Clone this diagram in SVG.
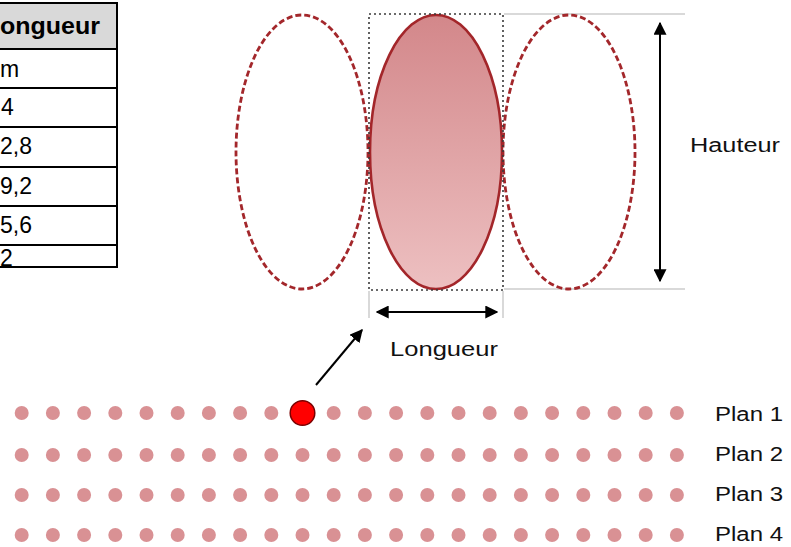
<svg xmlns="http://www.w3.org/2000/svg" width="791" height="547" viewBox="0 0 791 547">
<defs>
<style>
.tbl{font-family:"Liberation Sans",Arial,sans-serif;font-size:23px;fill:#000}
.lbl{font-family:"Liberation Sans",Arial,sans-serif;font-size:20px;fill:#111}
.dash{fill:none;stroke:#a3272b;stroke-width:2.8;stroke-dasharray:6 3}
.dot{fill:#d99194}
.guide{stroke:#d9d9d9;stroke-width:2;fill:none}
.arr{stroke:#000;stroke-width:2;fill:none}
</style>
<linearGradient id="g" x1="0" y1="0" x2="0" y2="1">
<stop offset="0" stop-color="#d3878a"/>
<stop offset="1" stop-color="#edc0c1"/>
</linearGradient>
<marker id="ah" viewBox="0 0 10 10" refX="9" refY="5" markerWidth="13" markerHeight="13" markerUnits="userSpaceOnUse" orient="auto-start-reverse">
<path d="M0,0 L10,5 L0,10 z" fill="#000"/>
</marker>
</defs>

<g id="table">
<rect x="-10" y="3" width="127" height="46" fill="#d9d9d9"/>
<rect x="-10" y="49" width="127" height="218" fill="#fff"/>
<text class="tbl" x="0" y="34" font-weight="bold" textLength="100" lengthAdjust="spacingAndGlyphs">ongueur</text>
<text class="tbl" x="0" y="77">m</text>
<text class="tbl" x="1" y="115">4</text>
<text class="tbl" x="0" y="154">2,8</text>
<text class="tbl" x="0" y="194">9,2</text>
<text class="tbl" x="0" y="233">5,6</text>
<text class="tbl" x="0" y="266">2</text>
<g stroke="#000" stroke-width="2" fill="none">
<rect x="-10" y="3" width="127" height="264"/>
<line x1="-10" y1="49" x2="117" y2="49"/>
<line x1="-10" y1="88" x2="117" y2="88"/>
<line x1="-10" y1="127" x2="117" y2="127"/>
<line x1="-10" y1="167" x2="117" y2="167"/>
<line x1="-10" y1="206" x2="117" y2="206"/>
<line x1="-10" y1="245" x2="117" y2="245"/>
</g>
</g>

<g id="guides">
<line class="guide" x1="504" y1="14" x2="685" y2="14"/>
<line class="guide" x1="504" y1="289" x2="685" y2="289"/>
<line class="guide" x1="369" y1="291" x2="369" y2="318" stroke-width="1.5"/>
<line class="guide" x1="503" y1="291" x2="503" y2="318" stroke-width="1.5"/>
</g>

<g id="ellipse-left"><ellipse class="dash" cx="302" cy="152" rx="66" ry="137"/></g>
<g id="ellipse-right"><ellipse class="dash" cx="569" cy="152" rx="66" ry="137"/></g>
<g id="ellipse-center"><ellipse cx="436" cy="152" rx="66" ry="137" fill="url(#g)" stroke="#a3262a" stroke-width="2.6"/></g>
<g id="bbox"><rect x="369" y="14" width="134" height="276" fill="none" stroke="#3a3a3a" stroke-width="1.6" stroke-dasharray="2 3"/></g>

<g id="connectors">
<line class="arr" x1="660" y1="23" x2="660" y2="281" marker-start="url(#ah)" marker-end="url(#ah)"/>
<line class="arr" x1="377" y1="312" x2="497" y2="312" marker-start="url(#ah)" marker-end="url(#ah)"/>
<line class="arr" x1="316" y1="385" x2="362" y2="330" marker-end="url(#ah)"/>
</g>

<g id="labels">
<text class="lbl" x="690" y="152" textLength="90" lengthAdjust="spacingAndGlyphs">Hauteur</text>
<text class="lbl" x="390" y="356" textLength="108" lengthAdjust="spacingAndGlyphs">Longueur</text>
<text class="lbl" x="715" y="421" font-size="19" textLength="68" lengthAdjust="spacingAndGlyphs">Plan 1</text>
<text class="lbl" x="715" y="461" font-size="19" textLength="68" lengthAdjust="spacingAndGlyphs">Plan 2</text>
<text class="lbl" x="715" y="501" font-size="19" textLength="68" lengthAdjust="spacingAndGlyphs">Plan 3</text>
<text class="lbl" x="715" y="541" font-size="19" textLength="68" lengthAdjust="spacingAndGlyphs">Plan 4</text>
</g>

<g id="dots">
<g id="plan1">
<circle class="dot" cx="21.7" cy="413" r="7"/><circle class="dot" cx="52.9" cy="413" r="7"/><circle class="dot" cx="84.1" cy="413" r="7"/><circle class="dot" cx="115.3" cy="413" r="7"/><circle class="dot" cx="146.5" cy="413" r="7"/><circle class="dot" cx="177.7" cy="413" r="7"/><circle class="dot" cx="208.9" cy="413" r="7"/><circle class="dot" cx="240.1" cy="413" r="7"/><circle class="dot" cx="271.3" cy="413" r="7"/><circle class="dot" cx="333.7" cy="413" r="7"/><circle class="dot" cx="364.9" cy="413" r="7"/><circle class="dot" cx="396.1" cy="413" r="7"/><circle class="dot" cx="427.3" cy="413" r="7"/><circle class="dot" cx="458.5" cy="413" r="7"/><circle class="dot" cx="489.7" cy="413" r="7"/><circle class="dot" cx="520.9" cy="413" r="7"/><circle class="dot" cx="552.1" cy="413" r="7"/><circle class="dot" cx="583.3" cy="413" r="7"/><circle class="dot" cx="614.5" cy="413" r="7"/><circle class="dot" cx="645.7" cy="413" r="7"/><circle class="dot" cx="676.9" cy="413" r="7"/>
</g>
<g id="selected"><circle cx="302.5" cy="413" r="12.3" fill="#ff0000" stroke="#7a0000" stroke-width="1.5"/></g>
<g id="plan2">
<circle class="dot" cx="21.7" cy="455" r="7"/><circle class="dot" cx="52.9" cy="455" r="7"/><circle class="dot" cx="84.1" cy="455" r="7"/><circle class="dot" cx="115.3" cy="455" r="7"/><circle class="dot" cx="146.5" cy="455" r="7"/><circle class="dot" cx="177.7" cy="455" r="7"/><circle class="dot" cx="208.9" cy="455" r="7"/><circle class="dot" cx="240.1" cy="455" r="7"/><circle class="dot" cx="271.3" cy="455" r="7"/><circle class="dot" cx="302.5" cy="455" r="7"/><circle class="dot" cx="333.7" cy="455" r="7"/><circle class="dot" cx="364.9" cy="455" r="7"/><circle class="dot" cx="396.1" cy="455" r="7"/><circle class="dot" cx="427.3" cy="455" r="7"/><circle class="dot" cx="458.5" cy="455" r="7"/><circle class="dot" cx="489.7" cy="455" r="7"/><circle class="dot" cx="520.9" cy="455" r="7"/><circle class="dot" cx="552.1" cy="455" r="7"/><circle class="dot" cx="583.3" cy="455" r="7"/><circle class="dot" cx="614.5" cy="455" r="7"/><circle class="dot" cx="645.7" cy="455" r="7"/><circle class="dot" cx="676.9" cy="455" r="7"/>
</g>
<g id="plan3">
<circle class="dot" cx="21.7" cy="495" r="7"/><circle class="dot" cx="52.9" cy="495" r="7"/><circle class="dot" cx="84.1" cy="495" r="7"/><circle class="dot" cx="115.3" cy="495" r="7"/><circle class="dot" cx="146.5" cy="495" r="7"/><circle class="dot" cx="177.7" cy="495" r="7"/><circle class="dot" cx="208.9" cy="495" r="7"/><circle class="dot" cx="240.1" cy="495" r="7"/><circle class="dot" cx="271.3" cy="495" r="7"/><circle class="dot" cx="302.5" cy="495" r="7"/><circle class="dot" cx="333.7" cy="495" r="7"/><circle class="dot" cx="364.9" cy="495" r="7"/><circle class="dot" cx="396.1" cy="495" r="7"/><circle class="dot" cx="427.3" cy="495" r="7"/><circle class="dot" cx="458.5" cy="495" r="7"/><circle class="dot" cx="489.7" cy="495" r="7"/><circle class="dot" cx="520.9" cy="495" r="7"/><circle class="dot" cx="552.1" cy="495" r="7"/><circle class="dot" cx="583.3" cy="495" r="7"/><circle class="dot" cx="614.5" cy="495" r="7"/><circle class="dot" cx="645.7" cy="495" r="7"/><circle class="dot" cx="676.9" cy="495" r="7"/>
</g>
<g id="plan4">
<circle class="dot" cx="21.7" cy="535" r="7"/><circle class="dot" cx="52.9" cy="535" r="7"/><circle class="dot" cx="84.1" cy="535" r="7"/><circle class="dot" cx="115.3" cy="535" r="7"/><circle class="dot" cx="146.5" cy="535" r="7"/><circle class="dot" cx="177.7" cy="535" r="7"/><circle class="dot" cx="208.9" cy="535" r="7"/><circle class="dot" cx="240.1" cy="535" r="7"/><circle class="dot" cx="271.3" cy="535" r="7"/><circle class="dot" cx="302.5" cy="535" r="7"/><circle class="dot" cx="333.7" cy="535" r="7"/><circle class="dot" cx="364.9" cy="535" r="7"/><circle class="dot" cx="396.1" cy="535" r="7"/><circle class="dot" cx="427.3" cy="535" r="7"/><circle class="dot" cx="458.5" cy="535" r="7"/><circle class="dot" cx="489.7" cy="535" r="7"/><circle class="dot" cx="520.9" cy="535" r="7"/><circle class="dot" cx="552.1" cy="535" r="7"/><circle class="dot" cx="583.3" cy="535" r="7"/><circle class="dot" cx="614.5" cy="535" r="7"/><circle class="dot" cx="645.7" cy="535" r="7"/><circle class="dot" cx="676.9" cy="535" r="7"/>
</g>
</g>
</svg>
